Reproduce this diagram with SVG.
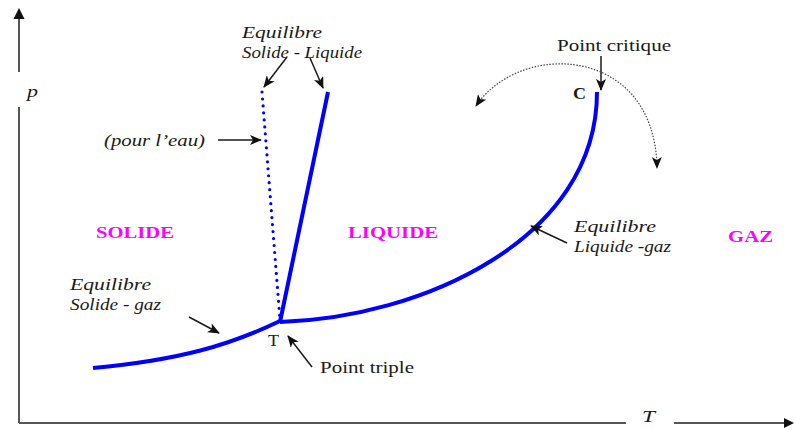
<svg xmlns="http://www.w3.org/2000/svg" width="794" height="430" viewBox="0 0 794 430">
<style>
.lbl{font-family:"Liberation Serif","Times New Roman",serif;font-size:16px;fill:#1a1a1a}
.it{font-style:italic}
.phase{font-family:"Liberation Serif","Times New Roman",serif;font-size:16px;font-weight:bold;fill:#ff00ff}
.curve{fill:none;stroke:#0000ff;stroke-width:4;stroke-linecap:butt;stroke-linejoin:round}
.arr{fill:none;stroke:#1a1a1a;stroke-width:1.5;marker-end:url(#ah)}
.axis{fill:none;stroke:#555;stroke-width:2}
</style>
<defs>
<marker id="ah" viewBox="0 0 12 10" refX="11" refY="5" markerWidth="12" markerHeight="10" markerUnits="userSpaceOnUse" orient="auto">
<path d="M0,0 L12,5 L0,10 L3,5 z" fill="#111"/>
</marker>
<marker id="ahd" viewBox="0 0 12 10" refX="11" refY="5" markerWidth="12" markerHeight="10" markerUnits="userSpaceOnUse" orient="auto-start-reverse">
<path d="M0,0 L12,5 L0,10 L3,5 z" fill="#111"/>
</marker>
</defs>
<rect width="794" height="430" fill="#fff"/>
<g id="axes">
<path class="axis" d="M19,423 V107 M19,72 V18"/>
<path d="M19,8 L24.5,19 L13.5,19 z" fill="#111"/>
<path class="axis" d="M19,423 H626 M674,423 H786"/>
<path d="M794,423 L784,418 L784,428 z" fill="#111"/>
<text class="lbl it" x="27" y="97" textLength="11" lengthAdjust="spacingAndGlyphs">p</text>
<text class="lbl it" x="642" y="422" textLength="13" lengthAdjust="spacingAndGlyphs">T</text>
</g>
<g id="curves">
<path id="solide-gaz" class="curve" d="M93,368 C180,360 230,345 280,321"/>
<path id="liquide-gaz" class="curve" d="M280,322 C420,318 597,240 597,92"/>
<path id="solide-liquide" class="curve" d="M280,322 L328,92"/>
<path id="solide-liquide-eau" fill="none" stroke="#0000ff" stroke-width="3.2" stroke-linecap="round" stroke-dasharray="0 7" d="M262,92 L280,320"/>
</g>
<g id="connectors">
<path class="arr" d="M287,57 L264,87"/>
<path class="arr" d="M310,58 L323,88"/>
<path class="arr" d="M218,140 L261,140"/>
<path class="arr" d="M189,317 L219,333"/>
<path class="arr" d="M312,367 L288,336"/>
<path class="arr" d="M567,243 L531,226"/>
<path class="arr" d="M601,56 L601,90"/>
<path fill="none" stroke="#444" stroke-width="1.2" stroke-dasharray="1.5 1.5" marker-start="url(#ahd)" marker-end="url(#ah)" d="M476,106 C520,40 655,45 657,168"/>
</g>
<g id="phase-solide"><text class="phase" x="96" y="238" textLength="78" lengthAdjust="spacingAndGlyphs">SOLIDE</text></g>
<g id="phase-liquide"><text class="phase" x="348" y="238" textLength="90" lengthAdjust="spacingAndGlyphs">LIQUIDE</text></g>
<g id="phase-gaz"><text class="phase" x="728" y="242" textLength="45" lengthAdjust="spacingAndGlyphs">GAZ</text></g>
<g id="label-solide-liquide">
<text class="lbl it" x="242" y="38" textLength="80" lengthAdjust="spacingAndGlyphs">Equilibre</text>
<text class="lbl it" x="242" y="58" textLength="120" lengthAdjust="spacingAndGlyphs">Solide - Liquide</text>
</g>
<g id="label-eau"><text class="lbl it" x="104" y="146" textLength="101" lengthAdjust="spacingAndGlyphs">(pour l’eau)</text></g>
<g id="label-solide-gaz">
<text class="lbl it" x="70" y="290" textLength="81" lengthAdjust="spacingAndGlyphs">Equilibre</text>
<text class="lbl it" x="70" y="310" textLength="91" lengthAdjust="spacingAndGlyphs">Solide - gaz</text>
</g>
<g id="label-liquide-gaz">
<text class="lbl it" x="574" y="232" textLength="82" lengthAdjust="spacingAndGlyphs">Equilibre</text>
<text class="lbl it" x="574" y="252" textLength="97" lengthAdjust="spacingAndGlyphs">Liquide -gaz</text>
</g>
<g id="point-triple">
<text class="lbl" x="268" y="346" textLength="11" lengthAdjust="spacingAndGlyphs">T</text>
<text class="lbl" x="320" y="373" textLength="94" lengthAdjust="spacingAndGlyphs">Point triple</text>
</g>
<g id="point-critique">
<text class="lbl" x="557" y="51" textLength="114" lengthAdjust="spacingAndGlyphs">Point critique</text>
<text class="lbl" x="573" y="99" font-weight="bold" textLength="13" lengthAdjust="spacingAndGlyphs">C</text>
</g>
</svg>
